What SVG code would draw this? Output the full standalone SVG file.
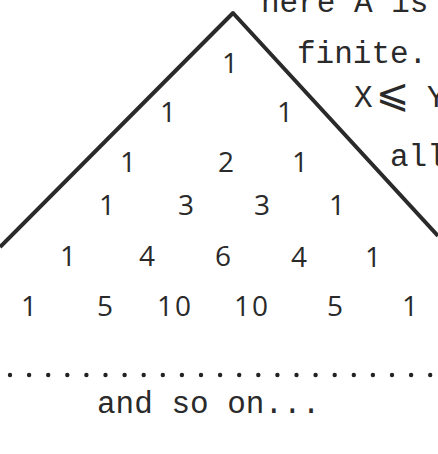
<svg xmlns="http://www.w3.org/2000/svg" width="438" height="454" viewBox="0 0 438 454">
<style>
.n{font-family:"Open Sans","DejaVu Sans",sans-serif;font-size:28px;fill:#2a2a2a;text-anchor:middle;letter-spacing:2px}
.t{font-family:"Liberation Mono",monospace;font-size:31px;fill:#2a2a2a}
.edge{stroke:#2a2a2a;stroke-width:4;fill:none;stroke-linejoin:round}
.dot{fill:#222}
</style>
<rect width="438" height="454" fill="#fff"/>
<g id="connectors">
<polyline class="edge" points="0,247 233,13 438,236"/>
</g>
<g id="side-text">
<text class="t" x="261" y="12">here A is</text>
<text class="t" x="297" y="63">finite.</text>
<text class="t" y="107"><tspan x="354">X</tspan><tspan x="376" font-size="40" font-family="DejaVu Sans, sans-serif">⩽</tspan><tspan x="427">Y</tspan></text>
<text class="t" x="390" y="166">all</text>
</g>
<g id="row1"><text class="n" x="231" y="73">1</text></g>
<g id="row2"><text class="n" x="169" y="122">1</text><text class="n" x="286" y="122">1</text></g>
<g id="row3"><text class="n" x="129" y="172">1</text><text class="n" x="227" y="172">2</text><text class="n" x="301" y="172">1</text></g>
<g id="row4"><text class="n" x="108" y="215">1</text><text class="n" x="187" y="215">3</text><text class="n" x="263" y="215">3</text><text class="n" x="338" y="215">1</text></g>
<g id="row5"><text class="n" x="69" y="266">1</text><text class="n" x="148" y="266">4</text><text class="n" x="224" y="266">6</text><text class="n" x="300" y="267">4</text><text class="n" x="374" y="267">1</text></g>
<g id="row6"><text class="n" x="30" y="316">1</text><text class="n" x="106" y="316">5</text><text class="n" x="175" y="316">10</text><text class="n" x="252" y="316">10</text><text class="n" x="336" y="316">5</text><text class="n" x="411" y="316">1</text></g>
<g id="dots">
<circle class="dot" cx="10" cy="375" r="2.2"/><circle class="dot" cx="29.1" cy="375" r="2.2"/><circle class="dot" cx="48.2" cy="375" r="2.2"/><circle class="dot" cx="67.3" cy="375" r="2.2"/><circle class="dot" cx="86.4" cy="375" r="2.2"/><circle class="dot" cx="105.5" cy="375" r="2.2"/><circle class="dot" cx="124.6" cy="375" r="2.2"/><circle class="dot" cx="143.7" cy="375" r="2.2"/><circle class="dot" cx="162.8" cy="375" r="2.2"/><circle class="dot" cx="181.9" cy="375" r="2.2"/><circle class="dot" cx="201" cy="375" r="2.2"/><circle class="dot" cx="220.1" cy="375" r="2.2"/><circle class="dot" cx="239.2" cy="375" r="2.2"/><circle class="dot" cx="258.3" cy="375" r="2.2"/><circle class="dot" cx="277.4" cy="375" r="2.2"/><circle class="dot" cx="296.5" cy="375" r="2.2"/><circle class="dot" cx="315.6" cy="375" r="2.2"/><circle class="dot" cx="334.7" cy="375" r="2.2"/><circle class="dot" cx="353.8" cy="375" r="2.2"/><circle class="dot" cx="372.9" cy="375" r="2.2"/><circle class="dot" cx="392" cy="375" r="2.2"/><circle class="dot" cx="411.1" cy="375" r="2.2"/><circle class="dot" cx="430.2" cy="375" r="2.2"/>
</g>
<g id="footer"><text class="t" x="97" y="413">and so on...</text></g>
</svg>
